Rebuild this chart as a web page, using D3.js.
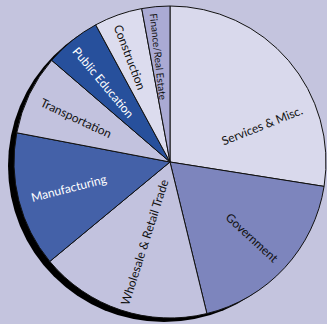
<!DOCTYPE html>
<html>
<head>
<meta charset="utf-8">
<script src="https://cdn.jsdelivr.net/npm/d3@7"></script>
<style>
  html, body { margin: 0; padding: 0; background: #c4c4de; }
  svg { display: block; }
</style>
</head>
<body>
<svg id="chart" width="327" height="324"></svg>
<script>
// Employment share by sector (percent of total)
const sectors = ["Services & Misc.", "Government", "Wholesale & Retail Trade", "Manufacturing",
                 "Transportation", "Public Education", "Construction", "Finance/Real Estate"];
const shares  = [27.5, 18.7, 17.8, 14.0, 8.3, 5.8, 5.0, 2.9];

// Slice fills and label inks
const fills   = ["#d9d9ec", "#7d85bd", "#c2c2de", "#4461a8", "#c2c2de", "#27509c", "#dcdcee", "#aaaad4"];
const inks    = ["#111", "#111", "#111", "#fff", "#111", "#fff", "#111", "#111"];
// Label placement: fraction of the way through the slice, and fraction of the radius
const labelAlong  = [0.69, 0.5, 0.49, 0.5, 0.48, 0.45, 0.42, 0.4];
const labelRadius = [0.635, 0.715, 0.54, 0.67, 0.665, 0.665, 0.72, 0.68];
const labelSize   = [12, 12, 12, 12, 12, 12, 12, 10];

const W = 327, H = 324;
const cx = 170, cy = 162, R = 156;

const svg = d3.select("#chart");
svg.append("rect").attr("width", W).attr("height", H).attr("fill", "#c4c4de");

const g = svg.append("g").attr("transform", `translate(${cx},${cy})`);

// drop shadow behind the pie
g.append("circle")
  .attr("cx", -6).attr("cy", 4).attr("r", R)
  .attr("fill", "#000");

const pie = d3.pie().sort(null).value(d => d)(shares);
const arc = d3.arc().innerRadius(0).outerRadius(R);

g.selectAll("path.slice")
  .data(pie)
  .join("path")
  .attr("class", "slice")
  .attr("d", arc)
  .attr("fill", (d, i) => fills[i])
  .attr("stroke", "#111")
  .attr("stroke-width", 1)
  .attr("stroke-linejoin", "round");

g.selectAll("text.label")
  .data(pie)
  .join("text")
  .attr("class", "label")
  .attr("transform", (d, i) => {
    const a = d.startAngle + (d.endAngle - d.startAngle) * labelAlong[i];
    const r = R * labelRadius[i];
    const x = Math.sin(a) * r, y = -Math.cos(a) * r;
    let rot = a * 180 / Math.PI - 90;
    if (rot > 90) rot -= 180;
    return `translate(${x},${y}) rotate(${rot})`;
  })
  .attr("text-anchor", "middle")
  .attr("dominant-baseline", "central")
  .attr("font-family", "Lato, 'Open Sans', sans-serif")
  .attr("font-size", (d, i) => labelSize[i])
  .attr("fill", (d, i) => inks[i])
  .text((d, i) => sectors[i]);
</script>
</body>
</html>
